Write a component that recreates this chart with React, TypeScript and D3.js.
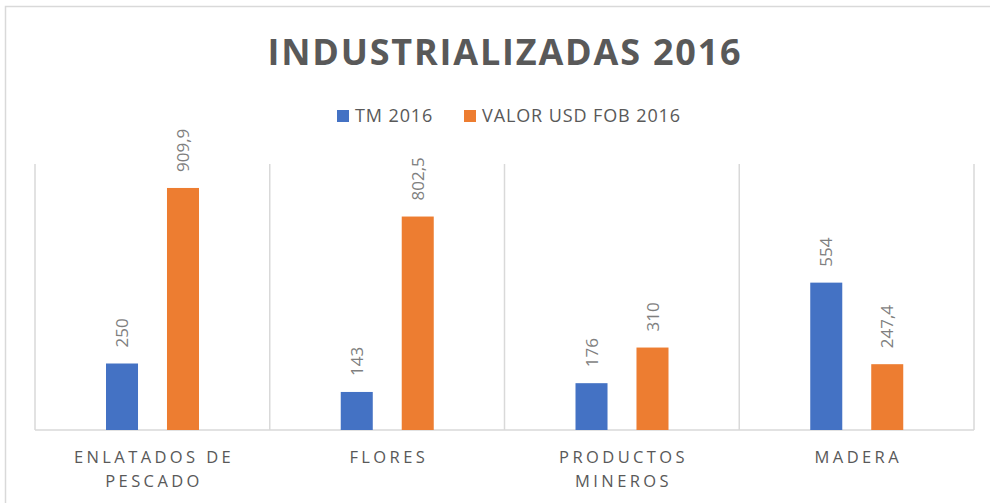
import React from "react";
import * as d3 from "d3";

const categories = [["ENLATADOS DE", "PESCADO"], ["FLORES"], ["PRODUCTOS", "MINEROS"], ["MADERA"]];
const seriesNames = ["TM 2016", "VALOR USD FOB 2016"];
const tmValues = [250, 143, 176, 554];
const usdValues = [909.9, 802.5, 310, 247.4];
const colors = ["#4472C4", "#ED7D31"];
const titleText = "INDUSTRIALIZADAS 2016";

const W = 990, H = 503;
const FONT = "'Open Sans', 'Liberation Sans', sans-serif";
const fmt = (v: number) => String(v).replace(".", ",");

export default function App() {
  const series = [tmValues, usdValues];
  const catKeys = categories.map((c) => c.join(" "));
  const x0 = d3.scaleBand<string>().domain(catKeys).range([35, 974]).padding(0);
  const x1 = d3.scaleBand<string>().domain(seriesNames).range([71, 164]).paddingInner(0.475).paddingOuter(0);
  const y = d3.scaleLinear().domain([0, 1000]).range([430, 164]);
  const grid = "#D9D9D9";

  const boundaries = catKeys.map((k) => x0(k)!).concat([x0.range()[1]]);

  return (
    <svg width={W} height={H} style={{ position: "absolute", left: 0, top: 0, background: "#fff" }} fontFamily={FONT}>
      <rect x={0} y={0} width={W} height={H} fill="#fff" />
      <rect x={5.5} y={6.5} width={1100} height={700} fill="none" stroke={grid} strokeWidth={1.5} />
      <text x={505} y={64.5} textAnchor="middle" fontSize={36} fontWeight="bold" fill="#595959" letterSpacing={1.8}>
        {titleText}
      </text>
      {seriesNames.map((s, i) => {
        const lx = i === 0 ? 337 : 464;
        return (
          <g key={s}>
            <rect x={lx} y={110} width={12} height={12} fill={colors[i]} />
            <text x={lx + 18} y={121.5} fontSize={18} fill="#595959" letterSpacing={0.9}>{s}</text>
          </g>
        );
      })}
      {boundaries.map((bx, i) => (
        <line key={i} x1={bx} x2={bx} y1={y(1000)} y2={y(0)} stroke={grid} strokeWidth={1.5} />
      ))}
      <line x1={x0.range()[0]} x2={x0.range()[1]} y1={y(0)} y2={y(0)} stroke={grid} strokeWidth={1.5} />
      {catKeys.map((k, ci) => (
        <g key={k}>
          {series.map((vals, si) => {
            const bx = x0(k)! + x1(seriesNames[si])!;
            const bw = x1.bandwidth();
            const v = vals[ci];
            const cx = bx + bw / 2;
            const ty = y(v) - 16;
            return (
              <g key={si}>
                <rect x={bx} y={y(v)} width={bw} height={y(0) - y(v)} fill={colors[si]} />
                <text
                  transform={`translate(${cx},${ty}) rotate(-90)`}
                  textAnchor="start"
                  dy="0.36em"
                  fontSize={17}
                  fill="#7F7F7F"
                >
                  {fmt(v)}
                </text>
              </g>
            );
          })}
          {categories[ci].map((line, li) => (
            <text
              key={li}
              x={x0(k)! + x0.bandwidth() / 2 + 1.7}
              y={463 + li * 24}
              textAnchor="middle"
              fontSize={16.5}
              fill="#595959"
              letterSpacing={3.4}
            >
              {line}
            </text>
          ))}
        </g>
      ))}
    </svg>
  );
}
